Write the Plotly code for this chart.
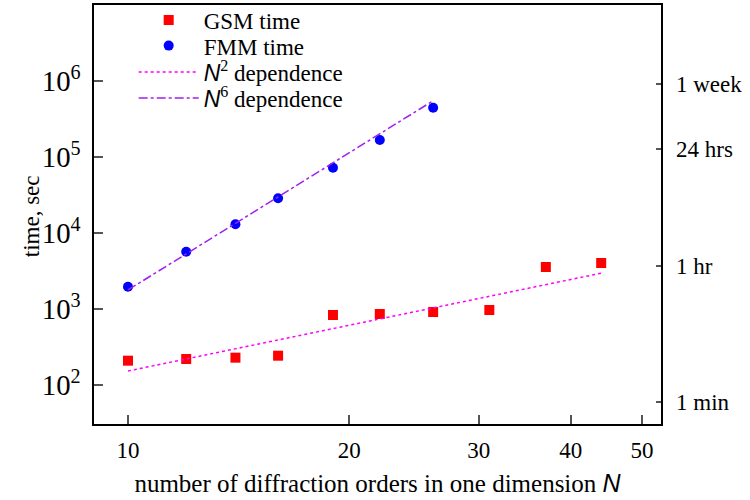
import plotly.graph_objects as go

# Data
N = [10, 12, 14, 16, 19, 22, 26, 31, 37, 44]
gsm_time = [209, 220, 229, 243, 834, 860, 913, 970, 3570, 4030]
N_fmm = [10, 12, 14, 16, 19, 22, 26]
fmm_time = [1965, 5675, 13010, 28630, 72300, 167400, 445400]
# fitted power-law guide lines (end points)
n2_N = [10, 44]
n2_t = [153, 2960]
n6_N = [10, 26]
n6_t = [1780, 549800]

x_ticks = [10, 20, 30, 40, 50]
right_tick_secs = [60, 3700, 127000, 914000]
right_tick_text = ["1 min", "1 hr", "24 hrs", "1 week"]

SERIF = "Liberation Serif"
FS = 23
LFS = 23
NI = "<span style='font-family:Liberation Sans'><i>N</i></span>"

fig = go.Figure()
fig.add_trace(go.Scatter(x=N, y=gsm_time, mode="markers", name="GSM time", legend="legend",
                         marker=dict(symbol="square", size=10, color="#ff0000")))
fig.add_trace(go.Scatter(x=N_fmm, y=fmm_time, mode="markers", name="FMM time", legend="legend2",
                         marker=dict(symbol="circle", size=10, color="#0000ff")))
fig.add_trace(go.Scatter(x=n2_N, y=n2_t, mode="lines", name=NI + "<sup>2</sup> dependence",
                         legend="legend3",
                         line=dict(color="#ff00ff", width=1.5, dash="dot")))
fig.add_trace(go.Scatter(x=n6_N, y=n6_t, mode="lines", name=NI + "<sup>6</sup> dependence",
                         legend="legend4",
                         line=dict(color="#a020f0", width=1.5, dash="dashdot")))
# helper trace so the right-hand axis is drawn
fig.add_trace(go.Scatter(x=[N[0]], y=[gsm_time[0]], yaxis="y2", mode="markers",
                         marker=dict(opacity=0), showlegend=False, hoverinfo="skip"))


def leg(yc):
    return dict(x=0.07, y=yc, xanchor="left", yanchor="middle", itemwidth=60,
                bgcolor="rgba(0,0,0,0)", font=dict(family=SERIF, size=LFS))


yr = [1.487, 7.0]
fig.update_layout(
    width=750, height=500,
    margin=dict(l=94, r=89, t=5, b=76, autoexpand=False),
    paper_bgcolor="white", plot_bgcolor="white",
    font=dict(family=SERIF, size=FS, color="black"),
    showlegend=True,
    legend=leg(0.964), legend2=leg(0.903), legend3=leg(0.840), legend4=leg(0.778),
    xaxis=dict(type="log", range=[0.9538, 1.7248], tickvals=x_ticks,
               ticktext=[str(v) for v in x_ticks],
               ticks="inside", ticklen=9, tickwidth=1.5, tickcolor="#555",
               showline=True, linecolor="black", linewidth=1.5, mirror=True,
               showgrid=False, zeroline=False, ticklabelstandoff=5,
               title=dict(text="number of diffraction orders in one dimension " + NI,
                          font=dict(size=25), standoff=12)),
    yaxis=dict(type="log", range=yr, dtick=1, exponentformat="power",
               showexponent="all",
               ticks="inside", ticklen=9, tickwidth=1.5, tickcolor="#555",
               showline=True, linecolor="black", linewidth=1.5, mirror=True,
               showgrid=False, zeroline=False, ticklabelstandoff=7),
    yaxis2=dict(type="log", range=yr, overlaying="y", side="right", anchor="x",
                tickvals=right_tick_secs, ticktext=right_tick_text,
                ticks="inside", ticklen=5, tickwidth=1.5, tickcolor="#555",
                showline=False, showgrid=False, zeroline=False,
                ticklabelstandoff=14),
    annotations=[dict(text="time, sec", xref="paper", yref="paper", x=-0.111, y=0.496,
                      xanchor="center", yanchor="middle", textangle=-90, showarrow=False,
                      font=dict(family=SERIF, size=FS))],
)
fig.write_html("out.html")
